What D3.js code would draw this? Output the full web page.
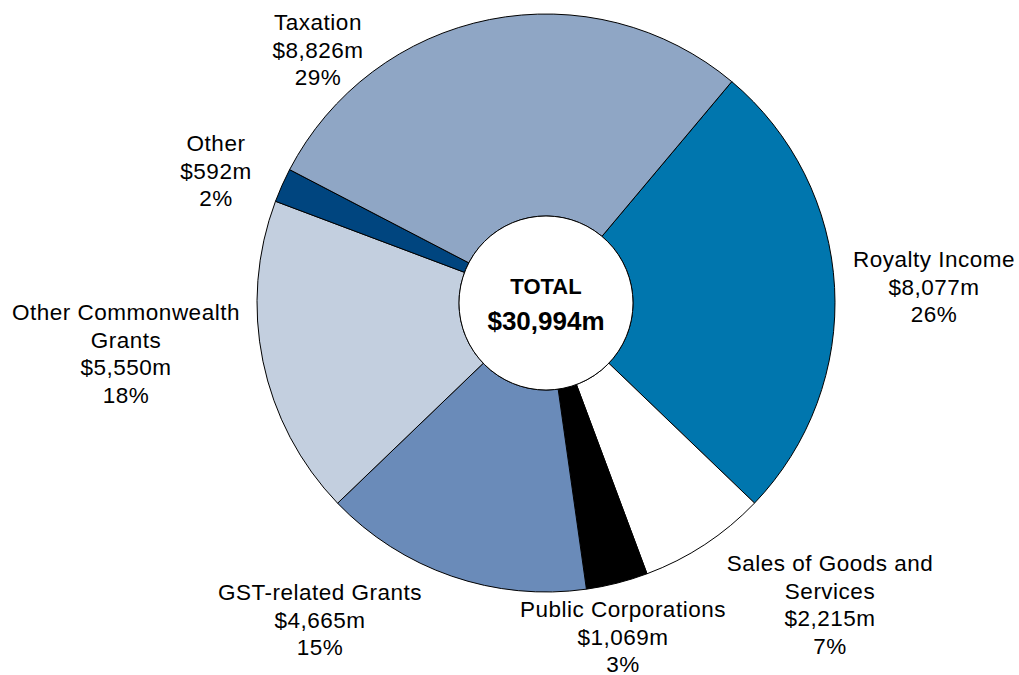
<!DOCTYPE html>
<html>
<head>
<meta charset="utf-8">
<script src="https://cdn.jsdelivr.net/npm/d3@7"></script>
<style>
  body { margin: 0; background: #fff; }
  text { font-family: "Liberation Sans", Arial, sans-serif; fill: #000; }
</style>
</head>
<body>
<div id="chart"></div>
<script>
// revenue sources, clockwise from Royalty Income
const categories = ['Royalty Income', 'Sales of Goods and Services', 'Public Corporations',
  'GST-related Grants', 'Other Commonwealth Grants', 'Other', 'Taxation'];
const values = [8077, 2215, 1069, 4665, 5550, 592, 8826];
const percents = [26, 7, 3, 15, 18, 2, 29]; // as printed on the chart
const colors = ['#0076ae', '#ffffff', '#000000', '#6a8bb9', '#c3cfdf', '#00457f', '#8fa6c5'];
// label text lines (name wrapped as in the original)
const labelNames = [['Royalty Income'], ['Sales of Goods and', 'Services'], ['Public Corporations'],
  ['GST-related Grants'], ['Other Commonwealth', 'Grants'], ['Other'], ['Taxation']];
const totalLabel = ['TOTAL', '$30,994m'];

// label placement (centre x, first baseline y)
const labelPos = [[934, 267], [830, 571], [623, 617], [320, 600], [126, 320], [216, 151], [318, 30]];

const width = 1019, height = 675;
const cx = 546, cy = 303, outerR = 289, innerR = 87;
const lineH = 27.5;
const startDeg = 40;

const svg = d3.select('#chart')
  .append('svg')
  .attr('width', width)
  .attr('height', height);

const g = svg.append('g').attr('transform', `translate(${cx}, ${cy})`);

const data = categories.map((c, i) => ({ name: c, value: values[i], i }));

const pie = d3.pie()
  .sort(null)
  .value(d => d.value)
  .startAngle(startDeg * Math.PI / 180)
  .endAngle(startDeg * Math.PI / 180 + 2 * Math.PI);

const arc = d3.arc().innerRadius(innerR).outerRadius(outerR);

g.selectAll('.slice')
  .data(pie(data))
  .enter()
  .append('path')
  .attr('class', 'slice')
  .attr('d', arc)
  .attr('fill', d => colors[d.data.i])
  .attr('stroke', '#000')
  .attr('stroke-width', 1);

// centre hole
g.append('circle')
  .attr('r', innerR)
  .attr('fill', '#fff')
  .attr('stroke', '#000')
  .attr('stroke-width', 1);

g.append('text')
  .attr('text-anchor', 'middle')
  .attr('y', -9)
  .style('font-size', '22px')
  .style('font-weight', 'bold')
  .text(totalLabel[0]);

g.append('text')
  .attr('text-anchor', 'middle')
  .attr('y', 27)
  .style('font-size', '26px')
  .style('font-weight', 'bold')
  .text(totalLabel[1]);

// slice labels
const fmt = d3.format(',');
const labels = svg.selectAll('.label')
  .data(data)
  .enter()
  .append('text')
  .attr('class', 'label')
  .attr('text-anchor', 'middle')
  .style('font-size', '22.5px')
  .style('letter-spacing', '0.5px');

labels.each(function(d) {
  const lines = labelNames[d.i].concat([`$${fmt(d.value)}m`, `${percents[d.i]}%`]);
  const [x, y] = labelPos[d.i];
  d3.select(this).selectAll('tspan')
    .data(lines)
    .enter()
    .append('tspan')
    .attr('x', x)
    .attr('y', (l, k) => y + k * lineH)
    .text(l => l);
});
</script>
</body>
</html>
